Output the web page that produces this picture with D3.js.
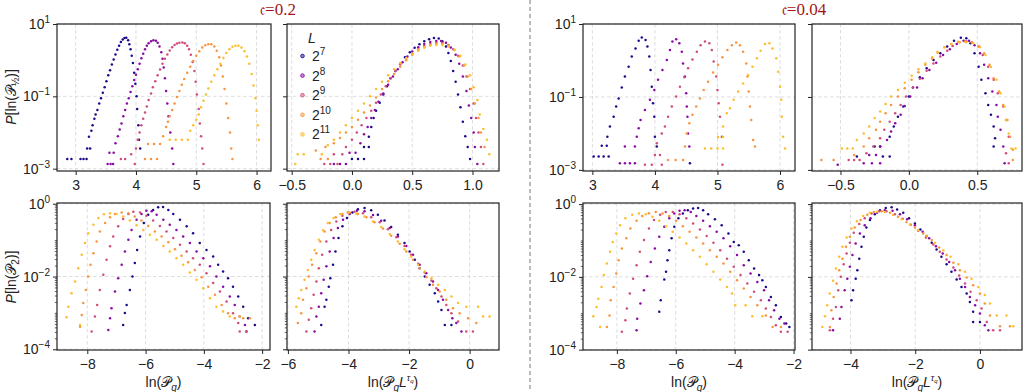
<!DOCTYPE html>
<html>
<head>
<meta charset="utf-8">
<script src="https://cdn.jsdelivr.net/npm/d3@7"></script>
<style>
  body { margin: 0; background: #fff; }
  svg { display: block; }
  text { font-family: "Liberation Sans", Arial, sans-serif; fill: #222; }
</style>
</head>
<body>
<svg id="chart" width="1025" height="392"></svg>
<script>
// system sizes L = 2^7 ... 2^11 (legend labels)
const sizeExp = ["7", "8", "9", "10", "11"];
const titles = ["c=0.2", "c=0.04"];

// every point is [x, log10 P], one list per L
// c = 0.2, top row, x = ln(P_1/2)
const c02_topLeft = [
  [[2.86,-2.73],[2.93,-2.73],[3.08,-2.73],[3.13,-2.73],[3.18,-2.73],[3.19,-2.44],[3.24,-2.44],[3.22,-2.12],[3.26,-1.95],[3.28,-1.8],[3.31,-1.62],[3.33,-1.5],[3.36,-1.38],[3.39,-1.2],[3.42,-1.05],[3.45,-0.9],[3.48,-0.75],[3.51,-0.58],[3.54,-0.42],[3.57,-0.28],[3.6,-0.12],[3.63,0.02],[3.66,0.16],[3.69,0.29],[3.72,0.4],[3.75,0.5],[3.78,0.57],[3.81,0.61],[3.84,0.62],[3.87,0.55],[3.89,0.44],[3.91,0.3],[3.93,0.12],[3.95,-0.08],[3.97,-0.35],[3.99,-0.65],[4.01,-1.0],[4.02,-1.35],[4.04,-1.8],[4.05,-2.2],[4.07,-2.44]],
  [[3.53,-2.87],[3.58,-2.87],[3.62,-2.87],[3.56,-2.56],[3.63,-2.56],[3.66,-2.3],[3.7,-2.1],[3.73,-1.92],[3.76,-1.75],[3.79,-1.55],[3.82,-1.38],[3.85,-1.2],[3.88,-1.05],[3.91,-0.88],[3.94,-0.72],[3.97,-0.55],[4.0,-0.4],[4.03,-0.25],[4.06,-0.1],[4.09,0.05],[4.12,0.18],[4.15,0.3],[4.18,0.4],[4.21,0.47],[4.25,0.52],[4.29,0.55],[4.33,0.54],[4.36,0.48],[4.39,0.38],[4.42,0.22],[4.44,0.04],[4.46,-0.2],[4.48,-0.5],[4.5,-0.85],[4.52,-1.2],[4.54,-1.55],[4.57,-2.0],[4.6,-2.44],[4.62,-2.87]],
  [[3.75,-2.73],[3.82,-2.73],[3.98,-2.87],[3.92,-2.6],[4.0,-2.44],[4.03,-2.2],[4.06,-2.0],[4.09,-1.8],[4.12,-1.62],[4.15,-1.45],[4.18,-1.28],[4.21,-1.1],[4.25,-0.92],[4.28,-0.75],[4.32,-0.58],[4.36,-0.42],[4.4,-0.26],[4.44,-0.1],[4.48,0.04],[4.52,0.16],[4.56,0.27],[4.6,0.36],[4.64,0.42],[4.68,0.46],[4.72,0.48],[4.77,0.49],[4.81,0.47],[4.85,0.4],[4.88,0.3],[4.91,0.15],[4.94,-0.05],[4.97,-0.3],[4.99,-0.6],[5.01,-0.95],[5.04,-1.35],[5.06,-1.75],[5.08,-2.1],[5.1,-2.44],[5.12,-2.87]],
  [[4.15,-2.73],[4.25,-2.73],[4.35,-2.73],[4.2,-2.32],[4.3,-2.32],[4.4,-2.32],[4.45,-2.1],[4.5,-1.85],[4.53,-1.7],[4.56,-1.55],[4.6,-1.38],[4.64,-1.2],[4.68,-1.02],[4.72,-0.85],[4.76,-0.68],[4.8,-0.52],[4.85,-0.35],[4.9,-0.18],[4.95,-0.02],[5.0,0.12],[5.05,0.25],[5.1,0.35],[5.15,0.41],[5.2,0.44],[5.25,0.44],[5.3,0.38],[5.34,0.26],[5.38,0.08],[5.41,-0.15],[5.44,-0.45],[5.47,-0.8],[5.5,-1.2],[5.53,-1.6],[5.56,-2.0],[5.58,-2.44],[5.6,-2.73]],
  [[4.56,-2.2],[4.66,-2.2],[4.76,-2.2],[4.86,-2.2],[4.9,-1.95],[4.95,-1.8],[5.0,-1.65],[5.04,-1.5],[5.08,-1.3],[5.12,-1.12],[5.16,-0.95],[5.2,-0.78],[5.25,-0.6],[5.3,-0.42],[5.35,-0.25],[5.4,-0.1],[5.45,0.06],[5.5,0.2],[5.55,0.3],[5.6,0.37],[5.65,0.4],[5.7,0.4],[5.75,0.35],[5.8,0.25],[5.84,0.1],[5.88,-0.1],[5.92,-0.38],[5.95,-0.7],[5.98,-1.05],[6.0,-1.4],[6.02,-1.8],[6.04,-2.2]]
];
// c = 0.2, top row, rescaled x
const c02_topRight = [
  [[0.0,-2.73],[0.05,-2.73],[0.1,-2.73],[0.1,-2.4],[0.14,-2.4],[0.14,-2.12],[0.16,-1.85],[0.18,-1.6],[0.2,-1.4],[0.23,-1.18],[0.26,-0.95],[0.29,-0.72],[0.32,-0.5],[0.36,-0.3],[0.4,-0.1],[0.44,0.08],[0.48,0.22],[0.52,0.34],[0.56,0.44],[0.6,0.52],[0.64,0.58],[0.68,0.61],[0.72,0.6],[0.75,0.52],[0.78,0.38],[0.8,0.2],[0.82,-0.02],[0.84,-0.3],[0.86,-0.6],[0.88,-0.95],[0.9,-1.3],[0.92,-1.7],[0.94,-2.1],[0.96,-2.4],[0.98,-2.73]],
  [[-0.15,-2.87],[-0.1,-2.87],[-0.05,-2.87],[-0.02,-2.56],[0.03,-2.56],[0.07,-2.3],[0.1,-2.05],[0.13,-1.85],[0.16,-1.6],[0.19,-1.38],[0.22,-1.15],[0.26,-0.92],[0.3,-0.68],[0.34,-0.45],[0.38,-0.25],[0.42,-0.06],[0.46,0.1],[0.5,0.24],[0.55,0.36],[0.6,0.45],[0.65,0.5],[0.7,0.53],[0.74,0.53],[0.78,0.48],[0.82,0.35],[0.86,0.15],[0.89,-0.1],[0.92,-0.45],[0.95,-0.85],[0.97,-1.25],[0.99,-1.6],[1.01,-2.0],[1.02,-2.4],[1.04,-2.87]],
  [[-0.23,-2.87],[-0.18,-2.87],[-0.12,-2.87],[-0.15,-2.6],[-0.08,-2.6],[-0.05,-2.4],[0.0,-2.2],[0.04,-2.0],[0.08,-1.8],[0.12,-1.6],[0.16,-1.4],[0.2,-1.18],[0.24,-0.95],[0.28,-0.72],[0.32,-0.5],[0.36,-0.3],[0.4,-0.12],[0.45,0.04],[0.5,0.18],[0.55,0.3],[0.6,0.39],[0.65,0.45],[0.7,0.48],[0.75,0.48],[0.8,0.42],[0.84,0.3],[0.88,0.12],[0.92,-0.15],[0.95,-0.45],[0.98,-0.8],[1.01,-1.2],[1.03,-1.6],[1.05,-2.0],[1.07,-2.4],[1.09,-2.87]],
  [[-0.26,-2.73],[-0.2,-2.73],[-0.3,-2.5],[-0.22,-2.4],[-0.15,-2.3],[-0.1,-2.15],[-0.05,-2.0],[0.0,-1.85],[0.05,-1.65],[0.1,-1.45],[0.15,-1.25],[0.2,-1.03],[0.25,-0.8],[0.3,-0.58],[0.35,-0.38],[0.4,-0.18],[0.45,0.0],[0.5,0.15],[0.55,0.27],[0.6,0.36],[0.65,0.42],[0.7,0.45],[0.75,0.45],[0.8,0.4],[0.85,0.28],[0.89,0.1],[0.93,-0.15],[0.96,-0.45],[0.99,-0.8],[1.02,-1.2],[1.05,-1.6],[1.07,-2.0],[1.1,-2.4]],
  [[-0.47,-2.87],[-0.45,-2.6],[-0.4,-2.6],[-0.25,-2.6],[-0.2,-2.35],[-0.15,-2.2],[-0.1,-2.0],[-0.05,-1.8],[0.0,-1.6],[0.05,-1.4],[0.1,-1.2],[0.15,-1.0],[0.2,-0.8],[0.25,-0.6],[0.3,-0.42],[0.35,-0.25],[0.4,-0.08],[0.45,0.06],[0.5,0.18],[0.55,0.28],[0.6,0.35],[0.65,0.4],[0.7,0.42],[0.75,0.42],[0.8,0.38],[0.85,0.28],[0.9,0.12],[0.94,-0.12],[0.98,-0.42],[1.01,-0.75],[1.04,-1.1],[1.06,-1.5],[1.09,-1.9],[1.12,-2.2],[1.14,-2.6]]
];
// c = 0.2, bottom row, x = ln(P_q)
const c02_botLeft = [
  [[-6.77,-3.33],[-6.71,-3.0],[-6.65,-2.78],[-6.54,-2.37],[-6.45,-2.0],[-6.37,-1.63],[-6.29,-1.27],[-6.19,-0.9],[-6.06,-0.53],[-5.91,-0.3],[-5.74,-0.17],[-5.57,-0.1],[-5.4,-0.09],[-5.22,-0.17],[-5.05,-0.28],[-4.82,-0.44],[-4.59,-0.62],[-4.37,-0.81],[-4.14,-1.08],[-3.91,-1.27],[-3.68,-1.45],[-3.51,-1.68],[-3.34,-1.86],[-3.17,-2.05],[-3.0,-2.28],[-2.82,-2.55],[-2.65,-2.83],[-2.48,-3.15],[-2.25,-3.33]],
  [[-7.28,-3.47],[-7.22,-3.15],[-7.17,-2.87],[-7.05,-2.41],[-6.94,-2.05],[-6.82,-1.68],[-6.71,-1.31],[-6.59,-0.99],[-6.48,-0.72],[-6.31,-0.44],[-6.14,-0.28],[-5.97,-0.19],[-5.79,-0.21],[-5.62,-0.3],[-5.39,-0.44],[-5.17,-0.58],[-4.94,-0.72],[-4.71,-0.9],[-4.48,-1.08],[-4.25,-1.31],[-4.02,-1.5],[-3.79,-1.72],[-3.57,-2.0],[-3.34,-2.28],[-3.11,-2.55],[-2.94,-2.78],[-2.77,-3.1],[-2.59,-3.33],[-2.54,-3.51]],
  [[-7.85,-3.51],[-7.74,-3.1],[-7.66,-2.78],[-7.57,-2.37],[-7.45,-1.95],[-7.34,-1.54],[-7.22,-1.17],[-7.11,-0.9],[-6.94,-0.62],[-6.77,-0.42],[-6.59,-0.28],[-6.42,-0.22],[-6.19,-0.24],[-5.97,-0.33],[-5.74,-0.46],[-5.51,-0.61],[-5.28,-0.76],[-5.05,-0.94],[-4.82,-1.13],[-4.59,-1.31],[-4.37,-1.5],[-4.14,-1.68],[-3.91,-1.91],[-3.68,-2.18],[-3.45,-2.41],[-3.22,-2.69],[-3.0,-3.01],[-2.82,-3.28],[-2.77,-3.51],[-2.54,-3.51]],
  [[-8.25,-3.38],[-8.19,-3.06],[-8.14,-2.73],[-8.05,-2.37],[-7.97,-2.0],[-7.89,-1.68],[-7.79,-1.36],[-7.68,-1.04],[-7.57,-0.76],[-7.39,-0.53],[-7.22,-0.37],[-7.05,-0.28],[-6.82,-0.24],[-6.59,-0.26],[-6.37,-0.35],[-6.14,-0.46],[-5.91,-0.61],[-5.68,-0.76],[-5.45,-0.9],[-5.22,-1.06],[-4.99,-1.25],[-4.77,-1.43],[-4.54,-1.61],[-4.31,-1.82],[-4.08,-2.02],[-3.85,-2.28],[-3.62,-2.5],[-3.39,-2.78],[-3.17,-3.01],[-2.94,-3.15],[-2.65,-3.15],[-2.42,-3.15]],
  [[-8.71,-3.12],[-8.65,-2.83],[-8.54,-2.46],[-8.42,-2.14],[-8.31,-1.77],[-8.19,-1.4],[-8.08,-1.08],[-7.97,-0.81],[-7.79,-0.58],[-7.62,-0.39],[-7.43,-0.29],[-7.22,-0.26],[-7.0,-0.28],[-6.77,-0.35],[-6.54,-0.46],[-6.31,-0.59],[-6.08,-0.72],[-5.85,-0.85],[-5.62,-0.99],[-5.39,-1.16],[-5.17,-1.31],[-4.94,-1.5],[-4.71,-1.68],[-4.48,-1.89],[-4.25,-2.09],[-4.02,-2.32],[-3.79,-2.6],[-3.57,-2.83],[-3.34,-2.96],[-3.11,-3.1],[-2.77,-3.1],[-8.25,-3.33]]
];
// c = 0.2, bottom row, x = ln(P_q L^tau_q)
const c02_botRight = [
  [[-4.9,-3.33],[-4.79,-2.83],[-4.73,-2.64],[-4.65,-2.28],[-4.6,-2.05],[-4.51,-1.68],[-4.43,-1.31],[-4.33,-0.94],[-4.2,-0.62],[-4.05,-0.39],[-3.87,-0.24],[-3.69,-0.15],[-3.47,-0.12],[-3.25,-0.18],[-3.03,-0.3],[-2.81,-0.46],[-2.59,-0.64],[-2.37,-0.85],[-2.15,-1.08],[-1.98,-1.31],[-1.81,-1.54],[-1.65,-1.77],[-1.48,-2.0],[-1.32,-2.23],[-1.15,-2.46],[-1.04,-2.69],[-0.93,-2.92],[-0.82,-3.33],[-0.6,-3.33]],
  [[-5.12,-3.51],[-5.06,-3.1],[-4.98,-2.83],[-4.9,-2.46],[-4.82,-2.09],[-4.73,-1.72],[-4.62,-1.31],[-4.49,-0.94],[-4.35,-0.67],[-4.18,-0.44],[-3.96,-0.28],[-3.72,-0.19],[-3.47,-0.21],[-3.19,-0.31],[-2.92,-0.47],[-2.64,-0.67],[-2.37,-0.9],[-2.09,-1.16],[-1.87,-1.4],[-1.65,-1.68],[-1.43,-1.91],[-1.21,-2.14],[-1.04,-2.37],[-0.88,-2.64],[-0.71,-2.92],[-0.57,-3.15],[-0.44,-3.28],[-0.27,-3.51]],
  [[-5.39,-3.51],[-5.31,-3.19],[-5.23,-2.87],[-5.15,-2.5],[-5.06,-2.14],[-4.98,-1.77],[-4.87,-1.4],[-4.73,-1.04],[-4.57,-0.72],[-4.4,-0.49],[-4.2,-0.33],[-4.02,-0.24],[-3.8,-0.22],[-3.52,-0.26],[-3.25,-0.37],[-2.97,-0.51],[-2.7,-0.7],[-2.42,-0.92],[-2.15,-1.16],[-1.93,-1.4],[-1.7,-1.65],[-1.48,-1.89],[-1.26,-2.11],[-1.1,-2.32],[-0.93,-2.55],[-0.77,-2.78],[-0.6,-3.01],[-0.38,-3.24],[-0.11,-3.51],[0.11,-3.51]],
  [[-5.67,-3.28],[-5.56,-3.01],[-5.5,-2.64],[-5.39,-2.32],[-5.31,-2.0],[-5.2,-1.68],[-5.06,-1.36],[-4.93,-1.04],[-4.79,-0.76],[-4.62,-0.53],[-4.42,-0.37],[-4.2,-0.28],[-3.96,-0.24],[-3.69,-0.28],[-3.41,-0.37],[-3.14,-0.51],[-2.86,-0.68],[-2.59,-0.88],[-2.31,-1.1],[-2.09,-1.31],[-1.87,-1.54],[-1.65,-1.77],[-1.43,-2.02],[-1.21,-2.23],[-0.99,-2.41],[-0.77,-2.64],[-0.55,-2.87],[-0.33,-3.01],[-0.05,-3.15],[0.22,-3.28]],
  [[-5.72,-2.83],[-5.64,-2.6],[-5.56,-2.37],[-5.45,-2.09],[-5.34,-1.82],[-5.23,-1.54],[-5.12,-1.27],[-4.98,-0.99],[-4.84,-0.73],[-4.68,-0.53],[-4.49,-0.39],[-4.27,-0.28],[-4.02,-0.24],[-3.74,-0.27],[-3.47,-0.35],[-3.19,-0.49],[-2.92,-0.64],[-2.64,-0.83],[-2.37,-1.04],[-2.15,-1.25],[-1.93,-1.45],[-1.7,-1.68],[-1.48,-1.86],[-1.26,-2.05],[-1.04,-2.23],[-0.82,-2.37],[-0.6,-2.55],[-0.38,-2.73],[-0.11,-2.83],[0.28,-2.83],[0.44,-3.1],[0.66,-3.1]]
];
// c = 0.04, top row
const c004_topLeft = [
  [[3.02,-2.63],[3.1,-2.63],[3.18,-2.63],[3.26,-2.63],[3.15,-2.34],[3.23,-2.34],[3.24,-2.09],[3.28,-1.81],[3.34,-1.54],[3.38,-1.26],[3.42,-1.04],[3.47,-0.74],[3.52,-0.44],[3.58,-0.17],[3.63,0.11],[3.69,0.33],[3.74,0.54],[3.79,0.63],[3.85,0.56],[3.88,0.38],[3.91,0.11],[3.93,-0.26],[3.95,-0.72],[3.97,-1.17],[3.99,-1.54],[4.0,-2.09],[4.03,-2.36],[4.56,-2.82]],
  [[3.44,-2.82],[3.52,-2.82],[3.6,-2.82],[3.68,-2.82],[3.52,-2.36],[3.68,-2.36],[3.71,-2.09],[3.74,-1.86],[3.77,-1.63],[3.84,-1.36],[3.92,-1.08],[3.99,-0.81],[4.05,-0.53],[4.12,-0.26],[4.19,0.01],[4.24,0.29],[4.28,0.52],[4.34,0.58],[4.39,0.47],[4.43,0.24],[4.45,-0.08],[4.48,-0.44],[4.5,-0.9],[4.51,-1.26],[4.52,-1.54],[4.53,-2.0],[4.55,-2.36]],
  [[3.84,-2.86],[3.95,-2.86],[4.11,-2.86],[4.0,-2.59],[4.08,-2.59],[4.03,-2.27],[4.11,-2.0],[4.16,-1.81],[4.21,-1.54],[4.27,-1.26],[4.34,-0.99],[4.4,-0.72],[4.47,-0.46],[4.53,-0.21],[4.6,0.03],[4.67,0.24],[4.73,0.42],[4.8,0.52],[4.87,0.47],[4.91,0.29],[4.94,-0.03],[4.98,-0.44],[5.0,-0.81],[5.02,-1.17],[5.04,-1.54],[5.07,-2.09],[5.08,-2.86]],
  [[4.21,-2.73],[4.33,-2.73],[4.45,-2.73],[4.48,-2.36],[4.51,-2.0],[4.55,-1.72],[4.6,-1.49],[4.66,-1.26],[4.72,-1.04],[4.78,-0.81],[4.85,-0.58],[4.93,-0.33],[5.01,-0.12],[5.08,0.09],[5.16,0.29],[5.23,0.42],[5.3,0.49],[5.36,0.42],[5.41,0.24],[5.46,-0.08],[5.48,-0.44],[5.5,-0.85],[5.52,-1.26],[5.54,-1.63],[5.57,-2.18],[5.6,-2.36]],
  [[4.8,-2.41],[4.9,-2.41],[5.0,-2.41],[5.09,-2.41],[5.01,-2.1],[5.09,-2.1],[5.09,-1.81],[5.15,-1.45],[5.2,-1.31],[5.26,-1.08],[5.33,-0.85],[5.41,-0.63],[5.49,-0.4],[5.56,-0.17],[5.63,0.06],[5.69,0.27],[5.76,0.45],[5.83,0.47],[5.88,0.33],[5.94,0.06],[5.97,-0.31],[6.0,-0.72],[6.02,-1.08],[6.03,-1.54],[6.05,-2.09],[6.08,-2.41]]
];
const c004_topRight = [
  [[-0.38,-2.63],[-0.19,-2.63],[-0.14,-2.63],[-0.25,-2.36],[-0.21,-2.36],[-0.14,-2.09],[-0.11,-1.81],[-0.08,-1.54],[-0.04,-1.26],[0.0,-0.99],[0.03,-0.74],[0.08,-0.46],[0.13,-0.21],[0.18,0.01],[0.23,0.2],[0.28,0.38],[0.33,0.54],[0.38,0.62],[0.42,0.61],[0.45,0.47],[0.48,0.2],[0.51,-0.17],[0.53,-0.53],[0.56,-0.9],[0.58,-1.22],[0.6,-1.49],[0.62,-1.81],[0.63,-2.13],[0.62,-2.36]],
  [[-0.52,-2.86],[-0.33,-2.82],[-0.27,-2.82],[-0.21,-2.82],[-0.29,-2.59],[-0.24,-2.59],[-0.21,-2.36],[-0.16,-2.18],[-0.13,-1.95],[-0.1,-1.72],[-0.06,-1.49],[-0.03,-1.25],[0.01,-0.99],[0.06,-0.74],[0.1,-0.49],[0.15,-0.26],[0.2,-0.06],[0.25,0.15],[0.3,0.31],[0.35,0.45],[0.4,0.54],[0.44,0.54],[0.48,0.42],[0.52,0.2],[0.55,-0.12],[0.58,-0.49],[0.61,-0.85],[0.64,-1.22],[0.65,-1.54],[0.67,-1.9],[0.69,-2.36],[0.7,-2.82]],
  [[-0.44,-2.73],[-0.4,-2.73],[-0.36,-2.73],[-0.31,-2.54],[-0.26,-2.36],[-0.21,-2.13],[-0.18,-1.9],[-0.14,-1.68],[-0.1,-1.45],[-0.06,-1.22],[-0.02,-0.99],[0.03,-0.74],[0.08,-0.5],[0.13,-0.28],[0.18,-0.08],[0.23,0.11],[0.28,0.27],[0.32,0.4],[0.37,0.5],[0.42,0.53],[0.46,0.5],[0.51,0.38],[0.54,0.15],[0.58,-0.17],[0.62,-0.53],[0.65,-0.9],[0.69,-1.26],[0.71,-1.63],[0.73,-2.09],[0.71,-2.54],[0.73,-2.82]],
  [[-0.64,-2.73],[-0.55,-2.73],[-0.4,-2.59],[-0.33,-2.36],[-0.29,-2.13],[-0.24,-1.9],[-0.21,-1.68],[-0.17,-1.45],[-0.13,-1.22],[-0.08,-0.99],[-0.03,-0.76],[0.02,-0.53],[0.07,-0.32],[0.12,-0.12],[0.17,0.05],[0.21,0.21],[0.26,0.36],[0.31,0.45],[0.36,0.51],[0.41,0.52],[0.46,0.49],[0.51,0.38],[0.55,0.2],[0.59,-0.12],[0.62,-0.49],[0.66,-0.85],[0.69,-1.22],[0.72,-1.63],[0.74,-2.09],[0.76,-2.45],[0.76,-2.73]],
  [[-0.49,-2.41],[-0.45,-2.41],[-0.41,-2.41],[-0.38,-2.18],[-0.33,-2.0],[-0.29,-1.81],[-0.25,-1.58],[-0.21,-1.4],[-0.17,-1.19],[-0.13,-0.99],[-0.08,-0.81],[-0.03,-0.61],[0.02,-0.42],[0.07,-0.24],[0.12,-0.08],[0.17,0.09],[0.21,0.24],[0.26,0.36],[0.31,0.45],[0.37,0.5],[0.42,0.5],[0.47,0.47],[0.52,0.36],[0.56,0.15],[0.6,-0.17],[0.64,-0.53],[0.67,-0.9],[0.7,-1.26],[0.71,-1.63],[0.73,-2.0],[0.75,-2.41],[0.78,-2.41]]
];
// c = 0.04, bottom row
const c004_botLeft = [
  [[-6.56,-2.96],[-6.51,-2.64],[-6.39,-2.07],[-6.33,-1.86],[-6.28,-1.54],[-6.22,-1.27],[-6.14,-0.94],[-6.05,-0.62],[-5.91,-0.39],[-5.76,-0.26],[-5.59,-0.17],[-5.41,-0.12],[-5.24,-0.11],[-5.07,-0.17],[-4.9,-0.28],[-4.67,-0.42],[-4.44,-0.58],[-4.21,-0.81],[-4.03,-1.04],[-3.86,-1.13],[-3.69,-1.31],[-3.52,-1.54],[-3.34,-1.77],[-3.17,-1.95],[-3.06,-2.09],[-2.94,-2.28],[-2.77,-2.55],[-2.6,-2.78],[-2.43,-3.1],[-2.25,-3.28],[-2.14,-3.38]],
  [[-7.33,-3.47],[-7.31,-3.15],[-7.2,-2.73],[-7.08,-2.37],[-6.97,-1.98],[-6.85,-1.59],[-6.71,-1.22],[-6.56,-0.9],[-6.39,-0.62],[-6.22,-0.39],[-6.05,-0.26],[-5.87,-0.18],[-5.7,-0.17],[-5.49,-0.22],[-5.3,-0.33],[-5.07,-0.46],[-4.84,-0.61],[-4.61,-0.76],[-4.38,-0.94],[-4.15,-1.16],[-3.92,-1.4],[-3.69,-1.68],[-3.46,-1.91],[-3.23,-2.14],[-3.0,-2.37],[-2.83,-2.64],[-2.66,-2.92],[-2.48,-3.15],[-2.31,-3.28]],
  [[-7.83,-3.51],[-7.71,-3.19],[-7.66,-2.87],[-7.56,-2.46],[-7.45,-2.05],[-7.33,-1.68],[-7.22,-1.31],[-7.08,-0.99],[-6.91,-0.67],[-6.74,-0.44],[-6.53,-0.29],[-6.34,-0.22],[-6.1,-0.22],[-5.87,-0.28],[-5.64,-0.39],[-5.41,-0.53],[-5.18,-0.7],[-4.95,-0.88],[-4.72,-1.06],[-4.49,-1.27],[-4.26,-1.5],[-4.03,-1.72],[-3.8,-1.95],[-3.57,-2.18],[-3.34,-2.41],[-3.11,-2.64],[-2.94,-2.87],[-2.77,-3.1],[-2.6,-3.33],[-2.43,-3.51],[-2.2,-3.51]],
  [[-8.34,-3.38],[-8.25,-3.06],[-8.21,-2.64],[-8.11,-2.28],[-8.02,-1.91],[-7.94,-1.54],[-7.83,-1.22],[-7.68,-0.94],[-7.54,-0.67],[-7.33,-0.46],[-7.14,-0.33],[-6.91,-0.25],[-6.68,-0.22],[-6.45,-0.26],[-6.22,-0.33],[-5.99,-0.46],[-5.76,-0.61],[-5.53,-0.76],[-5.3,-0.92],[-5.07,-1.08],[-4.84,-1.27],[-4.61,-1.45],[-4.38,-1.63],[-4.15,-1.86],[-3.92,-2.09],[-3.69,-2.32],[-3.46,-2.55],[-3.23,-2.78],[-2.94,-3.06],[-2.71,-3.38],[-2.43,-3.38]],
  [[-8.8,-3.08],[-8.69,-2.83],[-8.63,-2.6],[-8.52,-2.28],[-8.44,-1.95],[-8.34,-1.63],[-8.23,-1.31],[-8.14,-1.04],[-8.02,-0.81],[-7.89,-0.58],[-7.71,-0.39],[-7.48,-0.29],[-7.25,-0.26],[-7.02,-0.28],[-6.79,-0.35],[-6.56,-0.46],[-6.33,-0.61],[-6.1,-0.76],[-5.87,-0.92],[-5.64,-1.08],[-5.41,-1.27],[-5.18,-1.45],[-4.95,-1.65],[-4.72,-1.86],[-4.49,-2.07],[-4.26,-2.28],[-4.09,-2.46],[-3.98,-2.78],[-3.63,-2.78],[-3.4,-3.08],[-3.06,-3.08],[-8.57,-3.38]]
];
const c004_botRight = [
  [[-3.97,-2.64],[-3.92,-2.37],[-3.84,-2.05],[-3.79,-1.82],[-3.73,-1.5],[-3.66,-1.17],[-3.59,-0.9],[-3.51,-0.64],[-3.4,-0.44],[-3.25,-0.28],[-3.09,-0.17],[-2.91,-0.11],[-2.73,-0.09],[-2.56,-0.15],[-2.37,-0.24],[-2.19,-0.39],[-2.01,-0.53],[-1.84,-0.7],[-1.65,-0.88],[-1.49,-1.06],[-1.34,-1.25],[-1.19,-1.45],[-1.03,-1.65],[-0.88,-1.86],[-0.72,-2.07],[-0.57,-2.28],[-0.41,-2.46],[-0.31,-2.69],[-0.21,-2.96],[-0.21,-3.24],[0.0,-3.24]],
  [[-4.54,-3.47],[-4.33,-3.15],[-4.28,-2.83],[-4.18,-2.37],[-4.1,-2.05],[-4.02,-1.72],[-3.94,-1.4],[-3.84,-1.08],[-3.71,-0.81],[-3.56,-0.58],[-3.38,-0.39],[-3.18,-0.24],[-2.94,-0.17],[-2.7,-0.18],[-2.47,-0.28],[-2.25,-0.42],[-2.01,-0.58],[-1.77,-0.76],[-1.57,-0.94],[-1.36,-1.16],[-1.15,-1.36],[-0.95,-1.59],[-0.77,-1.82],[-0.62,-2.05],[-0.46,-2.28],[-0.31,-2.55],[-0.15,-2.78],[0.0,-3.01],[0.15,-3.33],[0.26,-3.47]],
  [[-4.64,-3.47],[-4.54,-3.15],[-4.45,-2.83],[-4.38,-2.37],[-4.3,-2.0],[-4.21,-1.65],[-4.12,-1.36],[-4.02,-1.06],[-3.9,-0.79],[-3.73,-0.55],[-3.56,-0.39],[-3.35,-0.26],[-3.11,-0.2],[-2.89,-0.2],[-2.63,-0.28],[-2.39,-0.4],[-2.14,-0.57],[-1.91,-0.73],[-1.67,-0.92],[-1.44,-1.11],[-1.24,-1.31],[-1.03,-1.52],[-0.82,-1.74],[-0.64,-1.96],[-0.46,-2.18],[-0.29,-2.41],[-0.1,-2.64],[0.05,-2.87],[0.21,-3.24],[0.41,-3.47],[0.62,-3.47]],
  [[-4.64,-3.38],[-4.59,-2.92],[-4.52,-2.55],[-4.43,-2.18],[-4.35,-1.82],[-4.25,-1.5],[-4.14,-1.17],[-4.02,-0.9],[-3.87,-0.64],[-3.69,-0.44],[-3.48,-0.29],[-3.28,-0.22],[-3.04,-0.2],[-2.78,-0.24],[-2.53,-0.35],[-2.27,-0.49],[-2.01,-0.64],[-1.75,-0.81],[-1.49,-0.99],[-1.26,-1.19],[-1.03,-1.4],[-0.82,-1.61],[-0.62,-1.82],[-0.41,-2.02],[-0.21,-2.23],[0.0,-2.46],[0.15,-2.73],[0.31,-3.06],[0.62,-3.36],[0.93,-3.36]],
  [[-4.87,-3.38],[-4.79,-3.08],[-4.72,-2.78],[-4.64,-2.46],[-4.54,-2.11],[-4.45,-1.77],[-4.35,-1.45],[-4.25,-1.17],[-4.12,-0.92],[-3.97,-0.67],[-3.8,-0.47],[-3.61,-0.33],[-3.4,-0.24],[-3.18,-0.21],[-2.94,-0.22],[-2.68,-0.3],[-2.42,-0.42],[-2.16,-0.56],[-1.91,-0.72],[-1.65,-0.88],[-1.39,-1.06],[-1.13,-1.27],[-0.91,-1.45],[-0.67,-1.65],[-0.46,-1.86],[-0.26,-2.05],[-0.05,-2.28],[0.15,-2.5],[0.31,-2.73],[0.52,-3.06],[0.82,-3.06],[1.03,-3.36]]
];

// tick values per panel
const ticksTopLeft = [3, 4, 5, 6];
const ticksTopRight02 = [-0.5, 0, 0.5, 1.0];
const ticksBotLeft = [-8, -6, -4, -2];
const ticksBotRight02 = [-6, -4, -2, 0];
const ticksTopRight004 = [-0.5, 0, 0.5];
const ticksBotRight004 = [-4, -2, 0];
const yTicksTop = [1, -1, -3];     // exponents
const yTicksBot = [0, -2, -4];

const colors = ["#1a0b8c", "#8a0aa5", "#d04c7a", "#f7943f", "#fcbe2a"];

const svg = d3.select("#chart");

// panel frames in pixels and axis domains
const panels = [
  {data: c02_topLeft, l: 57, r: 271, t: 24, b: 171, xd: [2.69, 6.24], yd: [-3.064, 1], xt: ticksTopLeft, fmt: d3.format("d"), yt: yTicksTop, ylab: true, minor: false},
  {data: c02_topRight, l: 287, r: 499, t: 24, b: 171, xd: [-0.539, 1.22], yd: [-3.064, 1], xt: ticksTopRight02, fmt: d3.format(".1f"), yt: yTicksTop, ylab: false, minor: false, legend: true},
  {data: c02_botLeft, l: 57, r: 270, t: 203, b: 350, xd: [-9.04, -1.73], yd: [-4.02, 0.02], xt: ticksBotLeft, fmt: d3.format("d"), yt: yTicksBot, ylab: true, minor: true, xlab: 1},
  {data: c02_botRight, l: 287, r: 499, t: 203, b: 350, xd: [-6.03, 0.97], yd: [-4.02, 0.02], xt: ticksBotRight02, fmt: d3.format("d"), yt: yTicksBot, ylab: false, minor: true, xlab: 2},
  {data: c004_topLeft, l: 583, r: 795, t: 24, b: 171, xd: [2.85, 6.24], yd: [-3.03, 1], xt: ticksTopLeft, fmt: d3.format("d"), yt: yTicksTop, ylab: true, minor: false},
  {data: c004_topRight, l: 812, r: 1022, t: 24, b: 171, xd: [-0.708, 0.827], yd: [-3.03, 1], xt: ticksTopRight004, fmt: d3.format(".1f"), yt: yTicksTop, ylab: false, minor: false},
  {data: c004_botLeft, l: 583, r: 795, t: 203, b: 350, xd: [-9.15, -1.95], yd: [-4.01, 0.03], xt: ticksBotLeft, fmt: d3.format("d"), yt: yTicksBot, ylab: true, minor: true, xlab: 1},
  {data: c004_botRight, l: 812, r: 1022, t: 203, b: 350, xd: [-5.19, 1.3], yd: [-4.01, 0.03], xt: ticksBotRight004, fmt: d3.format("d"), yt: yTicksBot, ylab: false, minor: true, xlab: 2}
];

panels.forEach(p => {
  const x = d3.scaleLinear().domain(p.xd).range([p.l, p.r]);
  const y = d3.scaleLog().domain([10 ** p.yd[0], 10 ** p.yd[1]]).range([p.b, p.t]);
  const g = svg.append("g");

  // dashed grid
  g.selectAll(".gx").data(p.xt).join("line")
    .attr("x1", d => x(d)).attr("x2", d => x(d)).attr("y1", p.t).attr("y2", p.b)
    .attr("stroke", "#d4d4d4").attr("stroke-width", 0.8).attr("stroke-dasharray", "3.5,2.5");
  g.selectAll(".gy").data(p.yt).join("line")
    .attr("x1", p.l).attr("x2", p.r).attr("y1", d => y(10 ** d)).attr("y2", d => y(10 ** d))
    .attr("stroke", "#d4d4d4").attr("stroke-width", 0.8).attr("stroke-dasharray", "3.5,2.5");

  // points
  p.data.forEach((s, i) => {
    g.append("g").selectAll("circle").data(s).join("circle")
      .attr("cx", d => x(d[0])).attr("cy", d => y(10 ** d[1]))
      .attr("r", 1.25).attr("fill", colors[i]);
  });

  // frame
  g.append("rect").attr("x", p.l).attr("y", p.t).attr("width", p.r - p.l).attr("height", p.b - p.t)
    .attr("fill", "none").attr("stroke", "#222").attr("stroke-width", 1.2);

  // x axis
  const xa = g.append("g").attr("transform", `translate(0,${p.b})`)
    .call(d3.axisBottom(x).tickValues(p.xt).tickFormat(p.fmt).tickSize(4).tickPadding(5).tickSizeOuter(0));
  xa.select(".domain").remove();
  xa.selectAll("text").attr("font-size", 14).attr("fill", "#222");
  xa.selectAll("line").attr("stroke", "#222");

  // y axis ticks
  const ya = g.append("g").attr("transform", `translate(${p.l},0)`)
    .call(d3.axisLeft(y).tickValues(p.yt.map(e => 10 ** e)).tickFormat("").tickSize(4).tickSizeOuter(0));
  ya.select(".domain").remove();
  ya.selectAll("line").attr("stroke", "#222");
  if (p.minor) {
    const minors = [];
    for (let e = -5; e <= 0; e++) for (let m = 2; m <= 9; m++) {
      const v = m * 10 ** e;
      if (Math.log10(v) > p.yd[0] && Math.log10(v) < p.yd[1]) minors.push(v);
    }
    [-1, -3].forEach(e => minors.push(10 ** e));
    const ym = g.append("g").attr("transform", `translate(${p.l},0)`)
      .call(d3.axisLeft(y).tickValues(minors).tickFormat("").tickSize(2.2).tickSizeOuter(0));
    ym.select(".domain").remove();
    ym.selectAll("line").attr("stroke", "#222").attr("stroke-width", 0.7);
  }
  if (p.ylab) {
    p.yt.forEach(e => {
      const t = g.append("text").attr("x", p.l - 7).attr("y", y(10 ** e) + 5)
        .attr("text-anchor", "end").attr("font-size", 14);
      t.append("tspan").text("10");
      t.append("tspan").attr("dy", -6).attr("font-size", 10).text(e < 0 ? "\u2212" + (-e) : e);
    });
  }

  // x labels under bottom panels
  if (p.xlab) {
    const cx = (p.l + p.r) / 2;
    const t = g.append("text").attr("x", cx).attr("y", 387).attr("text-anchor", "middle").attr("font-size", 14);
    t.append("tspan").text("ln(\uD835\uDCAB");
    t.append("tspan").attr("dy", 4).attr("font-size", 10).attr("font-style", "italic").text("q");
    if (p.xlab === 2) {
      t.append("tspan").attr("dy", -4).attr("font-style", "italic").text("L");
      t.append("tspan").attr("dy", -6).attr("font-size", 9).attr("font-style", "italic").text("\u03C4");
      t.append("tspan").attr("dy", 2).attr("font-size", 6).attr("font-style", "italic").text("q");
      t.append("tspan").attr("dy", 4).text(")");
    } else {
      t.append("tspan").attr("dy", -4).text(")");
    }
  }

  // legend
  if (p.legend) {
    g.append("text").attr("x", 312).attr("y", 43).attr("text-anchor", "middle")
      .attr("font-size", 14).attr("font-style", "italic").text("L");
    sizeExp.forEach((s, i) => {
      const yy = 56 + i * 19.6;
      g.append("circle").attr("cx", 302.5).attr("cy", yy).attr("r", 1.9)
        .attr("fill", colors[i]).attr("fill-opacity", 0.55).attr("stroke", colors[i]).attr("stroke-width", 0.7);
      const t = g.append("text").attr("x", 312).attr("y", yy + 5).attr("font-size", 14);
      t.append("tspan").text("2");
      t.append("tspan").attr("dy", -6).attr("font-size", 10).text(s);
    });
  }
});

// y labels on the left column
[{y: 97, sub: "\u00BD"}, {y: 277, sub: "2"}].forEach(d => {
  const t = svg.append("text").attr("transform", `translate(16,${d.y}) rotate(-90)`)
    .attr("text-anchor", "middle").attr("font-size", 14);
  t.append("tspan").attr("font-style", "italic").text("P");
  t.append("tspan").text("[ln(\uD835\uDCAB");
  t.append("tspan").attr("dy", 3).attr("font-size", 10).text(d.sub);
  t.append("tspan").attr("dy", -3).text(")]");
});

// titles (serif, dark red)
titles.forEach((s, i) => {
  svg.append("text").attr("x", i === 0 ? 278 : 804).attr("y", 15).attr("text-anchor", "middle")
    .style("font-family", "'Liberation Serif', 'DejaVu Serif', serif").style("font-size", "17px")
    .style("fill", "#a3151a").text(s.replace("c", "\uD835\uDD20"));
});

// vertical dashed separator
svg.append("line").attr("x1", 530).attr("x2", 530).attr("y1", 0).attr("y2", 392)
  .attr("stroke", "#777").attr("stroke-width", 1).attr("stroke-dasharray", "4,3");
</script>
</body>
</html>
